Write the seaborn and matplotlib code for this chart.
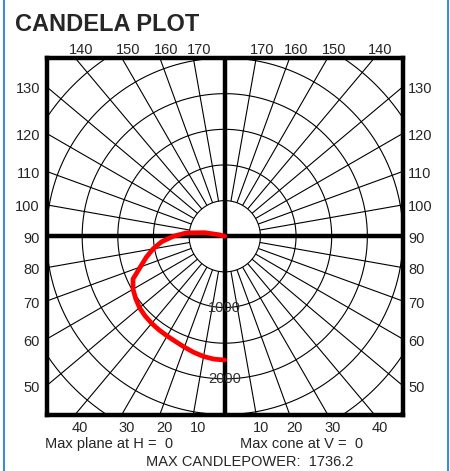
import numpy as np
import pandas as pd
import matplotlib
matplotlib.use("Agg")
import matplotlib.pyplot as plt
from matplotlib.lines import Line2D
import seaborn as sns

# Candela distribution in the H = 0 plane (vertical angle from nadir, degrees)
vert_angles = [0, 5, 10, 15, 20, 25, 30, 35, 40, 45, 50, 55, 60, 65, 70,
               75, 80, 85, 90, 95, 100, 105, 110]
candela = [1736.2, 1730, 1712, 1685, 1655, 1630, 1615, 1605, 1595, 1580,
           1560, 1525, 1485, 1420, 1260, 1140, 1020, 890, 720, 540, 290,
           80, 0]

# Grid definition
ring_values = [500, 1000, 1500, 2000, 2500, 3000, 3500]
ring_labels = ["1000", "2000"]
side_angles = [50, 60, 70, 80, 90, 100, 110, 120, 130]
top_angles = [140, 150, 160, 170]
bottom_angles = [40, 30, 20, 10]
spoke_angles = list(range(10, 180, 10))

title = "CANDELA PLOT"
plane_text = "Max plane at H =  0"
cone_text = "Max cone at V =  0"
max_text = "MAX CANDLEPOWER:  1736.2"

sns.set_theme(style="white")
plt.rcParams["font.family"] = ["Liberation Sans", "DejaVu Sans"]

W, H = 450, 471
fig = plt.figure(figsize=(W / 100, H / 100), dpi=100)
fig.patch.set_facecolor("white")

# plot box in pixels
bx0, bx1, by0, by1 = 46.5, 403.0, 58.0, 414.5
ax = fig.add_axes([bx0 / W, 1 - by1 / H, (bx1 - bx0) / W, (by1 - by0) / H])
LIM = 2500
ax.set_xlim(-LIM, LIM)
ax.set_ylim(-LIM, LIM)
k = 2 * LIM / (bx1 - bx0)   # candela per pixel
ax.set_xticks([])
ax.set_yticks([])
for s in ax.spines.values():
    s.set_visible(True)
    s.set_color("black")
    s.set_linewidth(3.2)
ax.set_facecolor("white")

thin = dict(color="black", lw=0.8, solid_capstyle="butt")

# concentric rings
t = np.linspace(0, 2 * np.pi, 721)
for r in ring_values:
    ax.plot(r * np.cos(t), r * np.sin(t), **thin)

# radial spokes on both sides, starting at the inner ring
r_in, r_out = ring_values[0], 4000
for a in spoke_angles:
    if a == 90:
        continue
    th = np.radians(a)
    for side in (-1, 1):
        ax.plot([side * r_in * np.sin(th), side * r_out * np.sin(th)],
                [-r_in * np.cos(th), -r_out * np.cos(th)], **thin)

# main axes cross
ax.axhline(0, color="black", lw=3.2)
ax.axvline(0, color="black", lw=3.2)

# ring value labels
for lab in ring_labels:
    v = float(lab)
    ax.text(0, -v, lab, ha="center", va="center", fontsize=10.5,
            color="#333333", zorder=4)

# candela curve
th = np.radians(vert_angles)
cd = np.array(candela)
df = pd.DataFrame({"x": -cd * np.sin(th), "y": -cd * np.cos(th)})
sns.lineplot(data=df, x="x", y="y", sort=False, estimator=None,
             color="#ff0000", lw=3.4, ax=ax, zorder=5)
ax.lines[-1].set_solid_capstyle("round")
ax.set_xlabel("")
ax.set_ylabel("")

fs = 10.5
# side angle labels
for a in side_angles:
    yv = -LIM / np.tan(np.radians(a)) - 2.5 * k
    ax.text(-LIM - 6.5 * k, yv, str(a), ha="right", va="center",
            fontsize=fs, clip_on=False)
    ax.text(LIM + 5 * k, yv, str(a), ha="left", va="center",
            fontsize=fs, clip_on=False)
# top labels
for a in top_angles:
    xv = -LIM * np.tan(np.radians(180 - a))
    ax.text(xv + 6 * k, LIM + 7.5 * k, str(a), ha="center", va="center",
            fontsize=fs, clip_on=False)
    ax.text(-xv + 6 * k, LIM + 7.5 * k, str(a), ha="center", va="center",
            fontsize=fs, clip_on=False)
# bottom labels
for a in bottom_angles:
    xv = -LIM * np.tan(np.radians(a))
    ax.text(xv + 5 * k, -LIM - 13 * k, str(a), ha="center", va="center",
            fontsize=fs, clip_on=False)
    ax.text(-xv + 5 * k, -LIM - 13 * k, str(a), ha="center", va="center",
            fontsize=fs, clip_on=False)

# header and footer text
fig.text(15 / W, 1 - 31 / H, title, ha="left", va="baseline",
         fontsize=17, fontweight="bold")
fig.text(45 / W, 1 - 448 / H, plane_text, ha="left", va="baseline",
         fontsize=fs)
fig.text(240 / W, 1 - 448 / H, cone_text, ha="left", va="baseline",
         fontsize=fs)
fig.text(146 / W, 1 - 466.5 / H, max_text, ha="left", va="baseline",
         fontsize=fs)

# frame rules at left and right
for px in (4, 448):
    fig.add_artist(Line2D([px / W, px / W], [0, 1], color="#3a8dd6",
                          lw=1.5, transform=fig.transFigure))

fig.savefig("out.png", dpi=100)
